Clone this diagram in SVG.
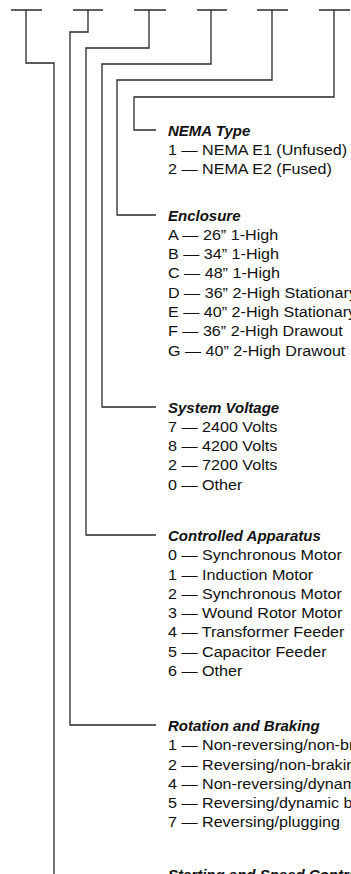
<svg xmlns="http://www.w3.org/2000/svg" width="351" height="874" viewBox="0 0 351 874">
<style>
.bg{fill:#ffffff}
.conn path{fill:none;stroke:#2a2a2a;stroke-width:1.3;stroke-linejoin:miter;stroke-linecap:butt}
.h{font-family:"Liberation Sans",Arial,sans-serif;font-size:15px;font-weight:bold;font-style:italic;fill:#111}
.i{font-family:"Liberation Sans",Arial,sans-serif;font-size:15px;fill:#111}
</style>
<rect class="bg" x="0" y="0" width="351" height="874"/>
<g id="connectors" class="conn">
<path d="M11 10H42M26 10V63H54V874"/>
<path d="M73 10H103M88 10V32H70V725H156"/>
<path d="M134 10H166M149 10V48H86V535H156"/>
<path d="M197 10H227M211 10V64H102V407H156"/>
<path d="M257 10H288M272 10V80H117V215H156"/>
<path d="M319 10H350M334 10V97H134V130H156"/>
</g>
<g id="nema-type">
<text class="h" x="168" y="135.5">NEMA Type</text>
<g transform="translate(168 0) scale(1.075 1) translate(-168 0)">
<text class="i" x="168" y="154.8">1 — NEMA E1 (Unfused)</text>
<text class="i" x="168" y="174.1">2 — NEMA E2 (Fused)</text>
</g>
</g>
<g id="enclosure">
<text class="h" x="168" y="220.5">Enclosure</text>
<g transform="translate(168 0) scale(1.075 1) translate(-168 0)">
<text class="i" x="168" y="239.8">A — 26” 1-High</text>
<text class="i" x="168" y="259.1">B — 34” 1-High</text>
<text class="i" x="168" y="278.4">C — 48” 1-High</text>
<text class="i" x="168" y="297.7">D — 36” 2-High Stationary</text>
<text class="i" x="168" y="317">E — 40” 2-High Stationary</text>
<text class="i" x="168" y="336.3">F — 36” 2-High Drawout</text>
<text class="i" x="168" y="355.6">G — 40” 2-High Drawout</text>
</g>
</g>
<g id="system-voltage">
<text class="h" x="168" y="412.5">System Voltage</text>
<g transform="translate(168 0) scale(1.075 1) translate(-168 0)">
<text class="i" x="168" y="431.8">7 — 2400 Volts</text>
<text class="i" x="168" y="451.1">8 — 4200 Volts</text>
<text class="i" x="168" y="470.4">2 — 7200 Volts</text>
<text class="i" x="168" y="489.7">0 — Other</text>
</g>
</g>
<g id="controlled-apparatus">
<text class="h" x="168" y="541">Controlled Apparatus</text>
<g transform="translate(168 0) scale(1.075 1) translate(-168 0)">
<text class="i" x="168" y="560.3">0 — Synchronous Motor</text>
<text class="i" x="168" y="579.6">1 — Induction Motor</text>
<text class="i" x="168" y="598.9">2 — Synchronous Motor</text>
<text class="i" x="168" y="618.2">3 — Wound Rotor Motor</text>
<text class="i" x="168" y="637.5">4 — Transformer Feeder</text>
<text class="i" x="168" y="656.8">5 — Capacitor Feeder</text>
<text class="i" x="168" y="676.1">6 — Other</text>
</g>
</g>
<g id="rotation-braking">
<text class="h" x="168" y="731">Rotation and Braking</text>
<g transform="translate(168 0) scale(1.075 1) translate(-168 0)">
<text class="i" x="168" y="750.3">1 — Non-reversing/non-braking</text>
<text class="i" x="168" y="769.6">2 — Reversing/non-braking</text>
<text class="i" x="168" y="788.9">4 — Non-reversing/dynamic braking</text>
<text class="i" x="168" y="808.2">5 — Reversing/dynamic braking</text>
<text class="i" x="168" y="827.5">7 — Reversing/plugging</text>
</g>
</g>
<g id="starting-speed">
<text class="h" x="168" y="880">Starting and Speed Control</text>
</g>
</svg>
